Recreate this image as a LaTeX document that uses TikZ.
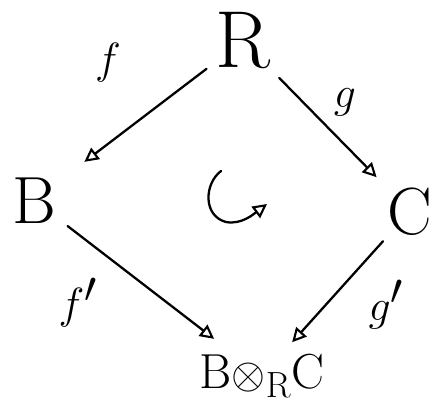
\documentclass[tikz,border=0pt]{standalone}
\usetikzlibrary{arrows.meta}
\begin{document}
\begin{tikzpicture}[x=0.02cm,y=-0.02cm,
	arr/.style={-{Triangle[open,length=8pt,width=8pt,line width=1.2pt]},line width=1.3pt,line cap=round},
	obj/.style={font=\fontsize{38}{42}\selectfont,anchor=base},
	lbl/.style={font=\fontsize{34}{38}\selectfont,anchor=base}]
	\useasboundingbox (0,0) rectangle (435,412);
	% objects
	\node[obj,font=\fontsize{46}{50}\selectfont] (R) at (243,68) {R};
	\node[obj] (B) at (34,223) {B};
	\node[obj] (C) at (410,234) {C};
	\node[obj,font=\fontsize{28}{32}\selectfont] (T) at (262,388) {B$\otimes_{\mathrm R}$C};
	% maps
	\draw[arr,shorten <=2pt,shorten >=16pt] (R) -- (B);
	\draw[arr,shorten <=2pt,shorten >=4pt] (R) -- (C);
	\draw[arr,shorten <=4pt,shorten >=8pt] (B) -- (T);
	\draw[arr,shorten <=0pt,shorten >=4pt] (C) -- (T);
	\node[lbl] (f) at (108,73) {$f$};
	\node[lbl] (g) at (345,107) {$g$};
	\node[lbl] (f') at (78,318) {$f'$};
	\node[lbl] (g') at (386,320) {$g'$};
	% commutes
	\coordinate (top) at (221,171);
	\coordinate (tip) at (267,204);
	\draw[arr] (top) .. controls (204,184) and (203,216) .. (226,222)
		.. controls (242,225) and (255,213) .. (tip);
\end{tikzpicture}
\end{document}
